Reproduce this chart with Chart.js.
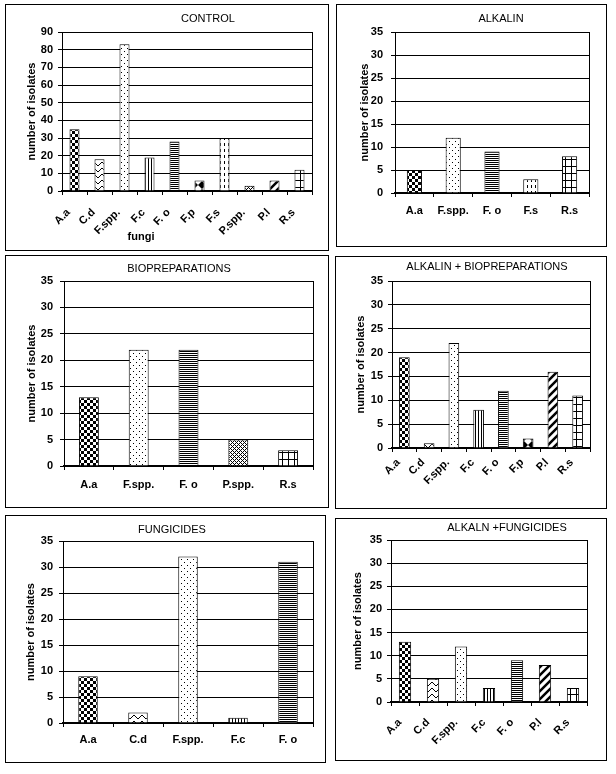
<!DOCTYPE html>
<html>
<head>
<meta charset="utf-8">
<script src="https://cdn.jsdelivr.net/npm/chart.js@4.4.1/dist/chart.umd.min.js"></script>
<style>
  html, body { margin: 0; padding: 0; background: #fff; }
  body { width: 616px; height: 774px; position: relative; overflow: hidden; }
  .panel { position: absolute; box-sizing: border-box; border: 1px solid #000; background: #fff; }
  .panel canvas { position: absolute; left: 0; top: 0; }
</style>
</head>
<body>
<script>
// ---------------- data ----------------
const controlLabels = ['A.a', 'C.d', 'F.spp.', 'F.c', 'F. o', 'F.p', 'F.s', 'P.spp.', 'P.l', 'R.s'];
const controlValues = [35, 18, 83, 19, 28, 6, 30, 3, 6, 12];

const alkalinLabels = ['A.a', 'F.spp.', 'F. o', 'F.s', 'R.s'];
const alkalinValues = [5, 12, 9, 3, 8];

const bioLabels = ['A.a', 'F.spp.', 'F. o', 'P.spp.', 'R.s'];
const bioValues = [13, 22, 22, 5, 3];

const alkBioLabels = ['A.a', 'C.d', 'F.spp.', 'F.c', 'F. o', 'F.p', 'P.l', 'R.s'];
const alkBioValues = [19, 1, 22, 8, 12, 2, 16, 11];

const fungLabels = ['A.a', 'C.d', 'F.spp.', 'F.c', 'F. o'];
const fungValues = [9, 2, 32, 1, 31];

const alkFungLabels = ['A.a', 'C.d', 'F.spp.', 'F.c', 'F. o', 'P.l', 'R.s'];
const alkFungValues = [13, 5, 12, 3, 9, 8, 3];

const yAxisTitle = 'number of isolates';
const xAxisTitleControl = 'fungi';

// ---------------- styles ----------------
const FONT = '"Liberation Sans", Arial, Helvetica, sans-serif';
Chart.defaults.font.family = FONT;
Chart.defaults.color = '#000';

function pat(w, h, draw) {
  const c = document.createElement('canvas');
  c.width = w; c.height = h;
  const g = c.getContext('2d');
  g.fillStyle = '#fff'; g.fillRect(0, 0, w, h);
  g.fillStyle = '#000'; g.strokeStyle = '#000';
  draw(g);
  return g.createPattern(c, 'repeat');
}
const patterns = {
  'A.a': pat(6, 6, g => { g.fillRect(0, 0, 3, 3); g.fillRect(3, 3, 3, 3); }),
  'C.d': pat(8, 6, g => { g.lineWidth = 1; g.beginPath(); g.moveTo(0, 1); g.lineTo(4, 5); g.lineTo(8, 1); g.stroke(); }),
  'F.spp.': pat(6, 6, g => { g.fillRect(1, 1, 1, 1); g.fillRect(4, 4, 1, 1); }),
  'F.c': pat(3, 1, g => { g.fillRect(1, 0, 1, 1); }),
  'F. o': pat(1, 2, g => { g.fillRect(0, 1, 1, 1); }),
  'F.p': pat(8, 8, g => { g.beginPath(); g.moveTo(4, 0); g.lineTo(8, 4); g.lineTo(4, 8); g.lineTo(0, 4); g.closePath(); g.fill(); }),
  'F.s': pat(4, 6, g => { g.fillRect(2, 0, 1, 3); }),
  'P.spp.': pat(4, 4, g => { for (let x = 0; x < 4; x++) for (let y = 0; y < 4; y++) if ((x + y) % 4 === 0 || (x - y + 4) % 4 === 0) g.fillRect(x, y, 1, 1); }),
  'P.l': pat(8, 8, g => { g.lineWidth = 2.5; g.beginPath(); g.moveTo(-2, 10); g.lineTo(10, -2); g.moveTo(-2, 2); g.lineTo(2, -2); g.moveTo(6, 10); g.lineTo(10, 6); g.stroke(); }),
  'R.s': pat(6, 7, g => { g.fillRect(0, 0, 6, 1); g.fillRect(0, 0, 1, 7); })
};

const decorPlugin = {
  id: 'panelDecor',
  beforeDatasetsDraw(chart) {
    const a = chart.chartArea, ctx = chart.ctx;
    ctx.save();
    ctx.strokeStyle = '#000'; ctx.lineWidth = 1;
    const x = Math.round(a.right) + 0.5;
    ctx.beginPath(); ctx.moveTo(x, a.top); ctx.lineTo(x, a.bottom); ctx.stroke();
    ctx.restore();
  },
  afterDraw(chart, args, opts) {
    const ctx = chart.ctx;
    ctx.save();
    ctx.fillStyle = '#000';
    ctx.textAlign = 'center'; ctx.textBaseline = 'middle';
    ctx.font = '11px ' + FONT;
    if (opts.title) ctx.fillText(opts.title, opts.titleX, opts.titleY);
    if (opts.xTitle) { ctx.font = 'bold 11px ' + FONT; ctx.fillText(opts.xTitle, opts.xTitleX, opts.xTitleY); }
    ctx.restore();
  }
};

const panels = [
  { title: 'CONTROL', labels: controlLabels, values: controlValues, max: 90, step: 10,
    box: [5, 4, 324, 247], pad: { left: 4, right: 16, top: 27, bottom: 0 }, yw: 52, xh: 59,
    yTitlePad: 15, yTickPad: 5, xTickPad: 11, rot: 45, lo: -6, barPct: 0.4,
    tx: 202, ty: 14, xTitle: xAxisTitleControl, xtx: 135, xty: 232 },
  { title: 'ALKALIN', labels: alkalinLabels, values: alkalinValues, max: 35, step: 5,
    box: [336, 4, 271, 243], pad: { left: 4, right: 17, top: 27, bottom: 0 }, yw: 54, xh: 53,
    yTitlePad: 17, yTickPad: 8, xTickPad: 7, rot: 0, lo: 0, barPct: 0.39,
    tx: 164, ty: 14 },
  { title: 'BIOPREPARATIONS', labels: bioLabels, values: bioValues, max: 35, step: 5,
    box: [5, 255, 324, 253], pad: { left: 4, right: 15, top: 25, bottom: 0 }, yw: 54, xh: 41,
    yTitlePad: 15, yTickPad: 7, xTickPad: 8, rot: 0, lo: 0, barPct: 0.4,
    tx: 173, ty: 13 },
  { title: 'ALKALIN + BIOPREPARATIONS', labels: alkBioLabels, values: alkBioValues, max: 35, step: 5,
    box: [335, 256, 272, 253], pad: { left: 4, right: 16, top: 24, bottom: 0 }, yw: 52, xh: 60,
    yTitlePad: 14, yTickPad: 5, xTickPad: 4, rot: 45, lo: -6, barPct: 0.43,
    tx: 151, ty: 10 },
  { title: 'FUNGICIDES', labels: fungLabels, values: fungValues, max: 35, step: 5,
    box: [5, 515, 321, 248], pad: { left: 4, right: 12, top: 25, bottom: 0 }, yw: 53, xh: 39,
    yTitlePad: 14, yTickPad: 6, xTickPad: 6, rot: 0, lo: 0, barPct: 0.39,
    tx: 166, ty: 14 },
  { title: 'ALKALN +FUNGICIDES', labels: alkFungLabels, values: alkFungValues, max: 35, step: 5,
    box: [335, 518, 272, 243], pad: { left: 4, right: 19, top: 21, bottom: 0 }, yw: 51, xh: 58,
    yTitlePad: 11, yTickPad: 5, xTickPad: 10, rot: 45, lo: -5, barPct: 0.44,
    tx: 171, ty: 9 }
];

panels.forEach(p => {
  const [L, T, W, H] = p.box;
  const div = document.createElement('div');
  div.className = 'panel';
  div.style.left = L + 'px'; div.style.top = T + 'px';
  div.style.width = W + 'px'; div.style.height = H + 'px';
  const cv = document.createElement('canvas');
  cv.width = W - 2; cv.height = H - 2;
  cv.style.width = (W - 2) + 'px'; cv.style.height = (H - 2) + 'px';
  div.appendChild(cv);
  document.body.appendChild(div);

  new Chart(cv, {
    type: 'bar',
    data: {
      labels: p.labels,
      datasets: [{
        data: p.values,
        backgroundColor: p.labels.map(l => patterns[l]),
        borderColor: '#000',
        borderWidth: 1,
        categoryPercentage: 1,
        barPercentage: p.barPct
      }]
    },
    plugins: [decorPlugin],
    options: {
      responsive: false,
      animation: false,
      devicePixelRatio: 1,
      layout: { padding: p.pad },
      plugins: {
        legend: { display: false },
        tooltip: { enabled: false },
        title: { display: false },
        panelDecor: { title: p.title, titleX: p.tx, titleY: p.ty, xTitle: p.xTitle, xTitleX: p.xtx, xTitleY: p.xty }
      },
      scales: {
        x: {
          grid: { display: true, offset: true, drawOnChartArea: false, drawTicks: true, tickLength: 4, color: '#000', lineWidth: 1 },
          border: { display: true, color: '#000', width: 2 },
          ticks: { autoSkip: false, minRotation: p.rot, maxRotation: p.rot, labelOffset: p.lo, padding: p.xTickPad,
                   font: { size: 11, weight: 'bold' }, color: '#000' },
          afterFit: s => { s.height = p.xh; }
        },
        y: {
          min: 0, max: p.max,
          grid: { display: true, color: '#000', lineWidth: 1, tickLength: 4, drawTicks: true },
          border: { display: true, color: '#000', width: 1 },
          ticks: { stepSize: p.step, padding: p.yTickPad, font: { size: 11, weight: 'bold' }, color: '#000' },
          title: { display: true, text: yAxisTitle, font: { size: 11, weight: 'bold' }, color: '#000', padding: { top: p.yTitlePad, bottom: 0 } },
          afterFit: s => { s.width = p.yw; }
        }
      }
    }
  });
});
</script>
</body>
</html>
